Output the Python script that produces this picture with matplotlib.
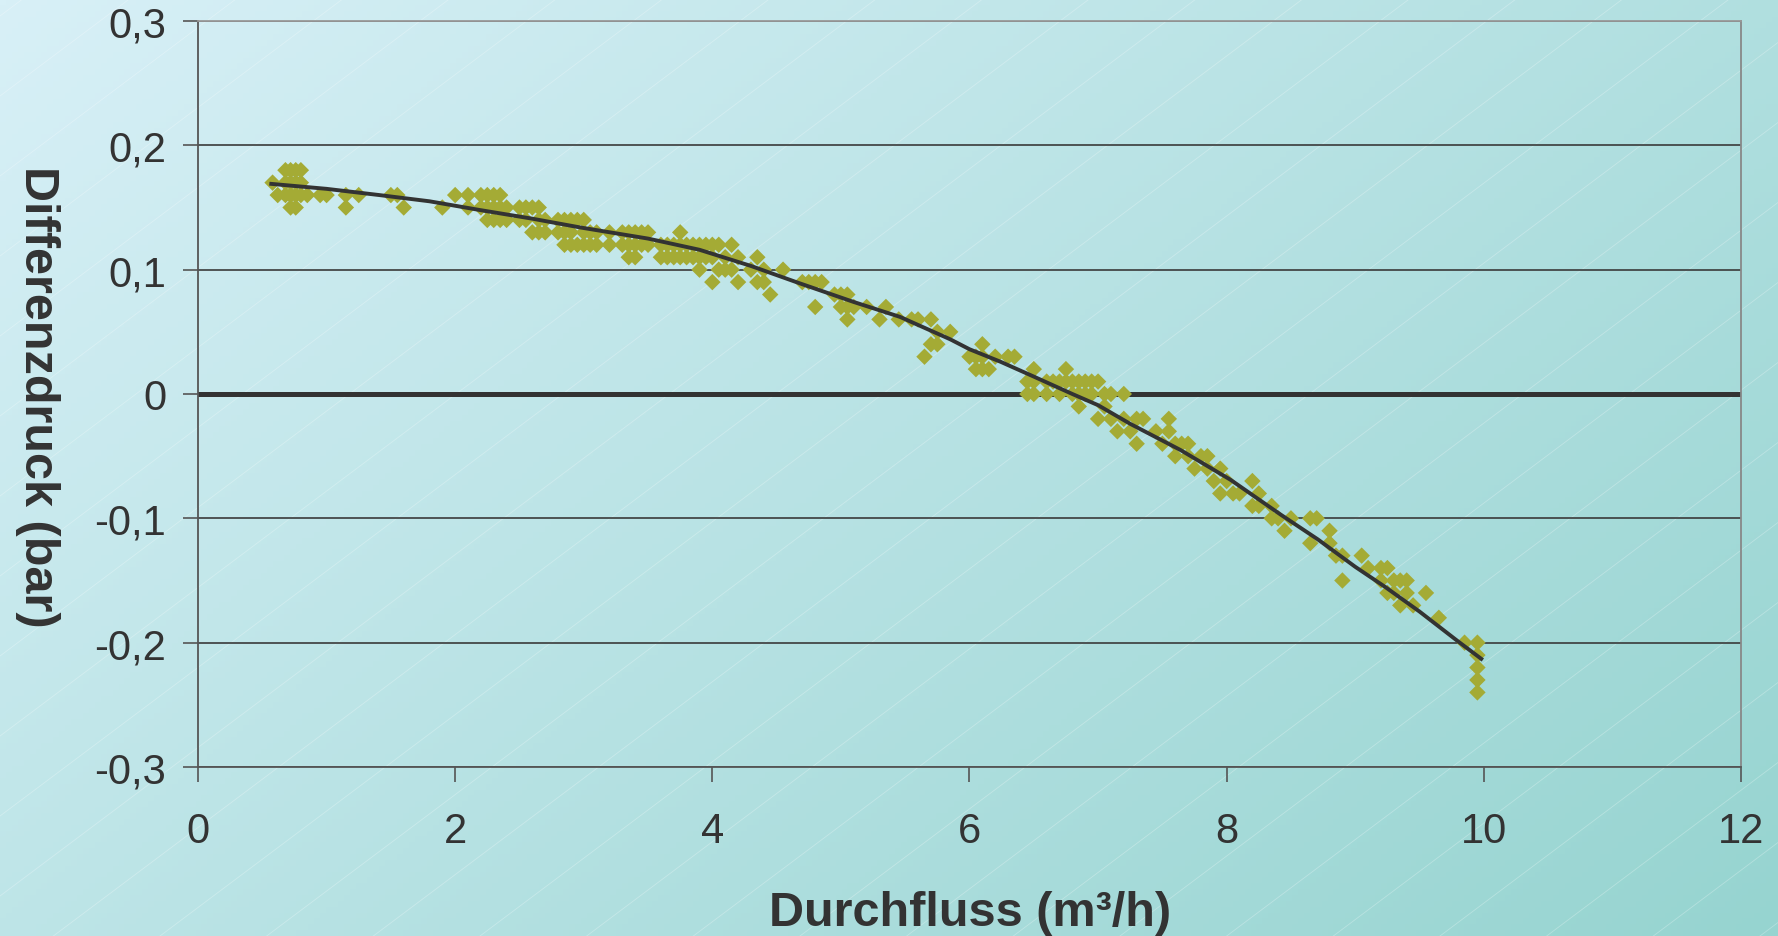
import numpy as np
import matplotlib
matplotlib.use('Agg')
import matplotlib.pyplot as plt

# measured points (flow m3/h, differential pressure bar)
flow = [0.58, 0.62, 0.68, 0.68, 0.68, 0.72, 0.72, 0.72, 0.72, 0.76, 0.76, 0.76, 0.76,
        0.80, 0.80, 0.80, 0.85, 0.95, 1.00, 1.15, 1.15, 1.25, 1.50, 1.55, 1.60, 1.90,
        2.00, 2.10, 2.10, 2.20, 2.20, 2.25, 2.25, 2.25, 2.30, 2.30, 2.30, 2.35, 2.35, 2.35,
        2.40, 2.40, 2.50, 2.50, 2.55, 2.55, 2.60, 2.60, 2.65, 2.65, 2.65, 2.70, 2.70,
        2.80, 2.80, 2.85, 2.85, 2.85, 2.90, 2.90, 2.90, 2.95, 2.95, 3.00, 3.00, 3.00,
        3.05, 3.05, 3.10, 3.10, 3.20, 3.20, 3.30, 3.30, 3.35, 3.35, 3.35, 3.40, 3.40, 3.40,
        3.45, 3.45, 3.50, 3.50, 3.60, 3.60, 3.65, 3.65, 3.70, 3.70, 3.75, 3.75, 3.75,
        3.80, 3.80, 3.85, 3.85, 3.90, 3.90, 3.90, 3.95, 3.95, 4.00, 4.00, 4.00,
        4.05, 4.05, 4.10, 4.10, 4.15, 4.15, 4.20, 4.20, 4.30, 4.35, 4.35, 4.40, 4.40, 4.45,
        4.55, 4.70, 4.75, 4.80, 4.80, 4.85, 4.95, 5.00, 5.00, 5.05, 5.05, 5.05, 5.10,
        5.20, 5.30, 5.35, 5.45, 5.55, 5.60, 5.65, 5.70, 5.70, 5.75, 5.75, 5.85,
        6.00, 6.05, 6.05, 6.10, 6.10, 6.10, 6.15, 6.20, 6.30, 6.35, 6.45, 6.45,
        6.50, 6.50, 6.50, 6.60, 6.60, 6.65, 6.70, 6.70, 6.75, 6.75, 6.80, 6.80,
        6.85, 6.85, 6.85, 6.90, 6.90, 6.95, 6.95, 7.00, 7.00, 7.05, 7.05, 7.10, 7.10,
        7.15, 7.20, 7.20, 7.25, 7.30, 7.30, 7.35, 7.45, 7.50, 7.55, 7.55, 7.60, 7.60,
        7.65, 7.70, 7.70, 7.75, 7.80, 7.85, 7.85, 7.90, 7.95, 7.95, 8.00, 8.05, 8.10,
        8.20, 8.20, 8.25, 8.25, 8.35, 8.35, 8.40, 8.45, 8.50, 8.65, 8.65, 8.70,
        8.80, 8.80, 8.85, 8.90, 8.90, 9.05, 9.10, 9.20, 9.20, 9.25, 9.25, 9.30, 9.30,
        9.35, 9.35, 9.40, 9.40, 9.45, 9.55, 9.65, 9.85, 9.95, 9.95, 9.95, 9.95, 9.95]
dp = [0.17, 0.16, 0.17, 0.18, 0.16, 0.18, 0.17, 0.16, 0.15, 0.18, 0.17, 0.16, 0.15,
      0.18, 0.17, 0.16, 0.16, 0.16, 0.16, 0.16, 0.15, 0.16, 0.16, 0.16, 0.15, 0.15,
      0.16, 0.16, 0.15, 0.16, 0.15, 0.16, 0.15, 0.14, 0.16, 0.15, 0.14, 0.16, 0.15, 0.14,
      0.15, 0.14, 0.15, 0.14, 0.15, 0.14, 0.15, 0.13, 0.15, 0.14, 0.13, 0.14, 0.13,
      0.14, 0.13, 0.14, 0.13, 0.12, 0.14, 0.13, 0.12, 0.14, 0.12, 0.14, 0.13, 0.12,
      0.13, 0.12, 0.13, 0.12, 0.13, 0.12, 0.13, 0.12, 0.13, 0.12, 0.11, 0.13, 0.12, 0.11,
      0.13, 0.12, 0.13, 0.12, 0.12, 0.11, 0.12, 0.11, 0.12, 0.11, 0.13, 0.12, 0.11,
      0.12, 0.11, 0.12, 0.11, 0.12, 0.11, 0.10, 0.12, 0.11, 0.12, 0.11, 0.09,
      0.12, 0.10, 0.11, 0.10, 0.12, 0.10, 0.11, 0.09, 0.10, 0.11, 0.09, 0.10, 0.09, 0.08,
      0.10, 0.09, 0.09, 0.09, 0.07, 0.09, 0.08, 0.08, 0.07, 0.08, 0.07, 0.06, 0.07,
      0.07, 0.06, 0.07, 0.06, 0.06, 0.06, 0.03, 0.06, 0.04, 0.05, 0.04, 0.05,
      0.03, 0.03, 0.02, 0.04, 0.03, 0.02, 0.02, 0.03, 0.03, 0.03, 0.01, 0.00,
      0.02, 0.01, 0.00, 0.01, 0.00, 0.01, 0.01, 0.00, 0.02, 0.01, 0.01, 0.00,
      0.01, 0.00, -0.01, 0.01, 0.00, 0.01, 0.00, 0.01, -0.02, 0.00, -0.01, 0.00, -0.02,
      -0.03, 0.00, -0.02, -0.03, -0.02, -0.04, -0.02, -0.03, -0.04, -0.03, -0.02, -0.05, -0.04,
      -0.04, -0.04, -0.05, -0.06, -0.05, -0.06, -0.05, -0.07, -0.06, -0.08, -0.07, -0.08, -0.08,
      -0.09, -0.07, -0.08, -0.09, -0.10, -0.09, -0.10, -0.11, -0.10, -0.10, -0.12, -0.10,
      -0.11, -0.12, -0.13, -0.15, -0.13, -0.13, -0.14, -0.15, -0.14, -0.16, -0.14, -0.15, -0.16,
      -0.15, -0.17, -0.16, -0.15, -0.17, -0.16, -0.18, -0.20, -0.20, -0.21, -0.22, -0.23, -0.24]

# trend line
trend_x = [0.57, 1.0, 1.41, 1.8, 2.19, 2.6, 2.97, 3.5, 3.9, 4.3, 4.68, 5.1, 5.46, 5.85,
           6.0, 6.24, 6.5, 6.8, 7.0, 7.25, 7.64, 8.03, 8.42, 8.71, 9.0, 9.23, 9.5, 9.8, 9.98]
trend_y = [0.169, 0.165, 0.160, 0.155, 0.148, 0.141, 0.134, 0.125, 0.116, 0.103, 0.089, 0.074,
           0.062, 0.044, 0.036, 0.026, 0.014, 0.0, -0.009, -0.024, -0.045, -0.069, -0.097, -0.117,
           -0.139, -0.155, -0.175, -0.199, -0.213]

y_ticks = [-0.3, -0.2, -0.1, 0.0, 0.1, 0.2, 0.3]
y_tick_labels = ['-0,3', '-0,2', '-0,1', '0', '0,1', '0,2', '0,3']
x_ticks = [0, 2, 4, 6, 8, 10, 12]

plt.rcParams['font.family'] = ['Liberation Sans', 'DejaVu Sans']
W, H = 1778, 937
fig = plt.figure(figsize=(W / 100, H / 100), dpi=100)

# background gradient + faint diagonal lines
bg = fig.add_axes([0, 0, 1, 1], zorder=-1)
gx, gy = np.meshgrid(np.linspace(0, 1, 300), np.linspace(0, 1, 160))
t = np.clip(0.6 * gx + 0.4 * gy, 0, 1)
c0 = np.array([216, 240, 247]) / 255.0
c1 = np.array([150, 212, 208]) / 255.0
img = c0[None, None, :] * (1 - t[..., None]) + c1[None, None, :] * t[..., None]
bg.imshow(img, extent=[0, W, 0, H], aspect='auto', origin='upper')
for c in np.arange(-1400, H, 80):
    bg.plot([0, W], [c, c + 0.75 * W], color='white', lw=0.6, alpha=0.28)
bg.set_xlim(0, W)
bg.set_ylim(0, H)
bg.axis('off')

ax = fig.add_axes([198 / W, (H - 768) / H, 1543 / W, 746 / H])
ax.patch.set_alpha(0)

for yv in y_ticks:
    if yv == 0:
        ax.axhline(yv, color='#333333', lw=3.6, zorder=1)
    else:
        ax.axhline(yv, color='#3a3a3a', lw=1.2, zorder=1)

ax.scatter(flow, dp, marker='D', s=70, color='#a4ab35', edgecolors='none', zorder=2)
ax.plot(trend_x, trend_y, color='#333333', lw=2.8, zorder=3)

ax.set_xlim(0, 12)
ax.set_ylim(-0.3, 0.3)
ax.set_xticks(x_ticks)
ax.set_xticklabels([str(v) for v in x_ticks])
ax.set_yticks(y_ticks)
ax.set_yticklabels(y_tick_labels)
ax.tick_params(axis='both', direction='out', length=11, width=1.2, color='#555555',
               labelcolor='#333333', labelsize=30)
ax.tick_params(axis='y', pad=12)
ax.tick_params(axis='x', pad=21)

ax.spines['left'].set_color('#555555')
ax.spines['bottom'].set_color('#555555')
ax.spines['top'].set_color('#999999')
ax.spines['right'].set_color('#888888')
for s in ax.spines.values():
    s.set_linewidth(1.3)

fig.text(0.5457, 0.025, 'Durchfluss (m³/h)', ha='center', va='center',
         fontsize=35, fontweight='bold', color='#333333')
fig.text(0.021, 0.576, 'Differenzdruck (bar)', ha='center', va='center', rotation=270,
         fontsize=35, fontweight='bold', color='#333333')

plt.savefig('out.png', dpi=100)
plt.close()
